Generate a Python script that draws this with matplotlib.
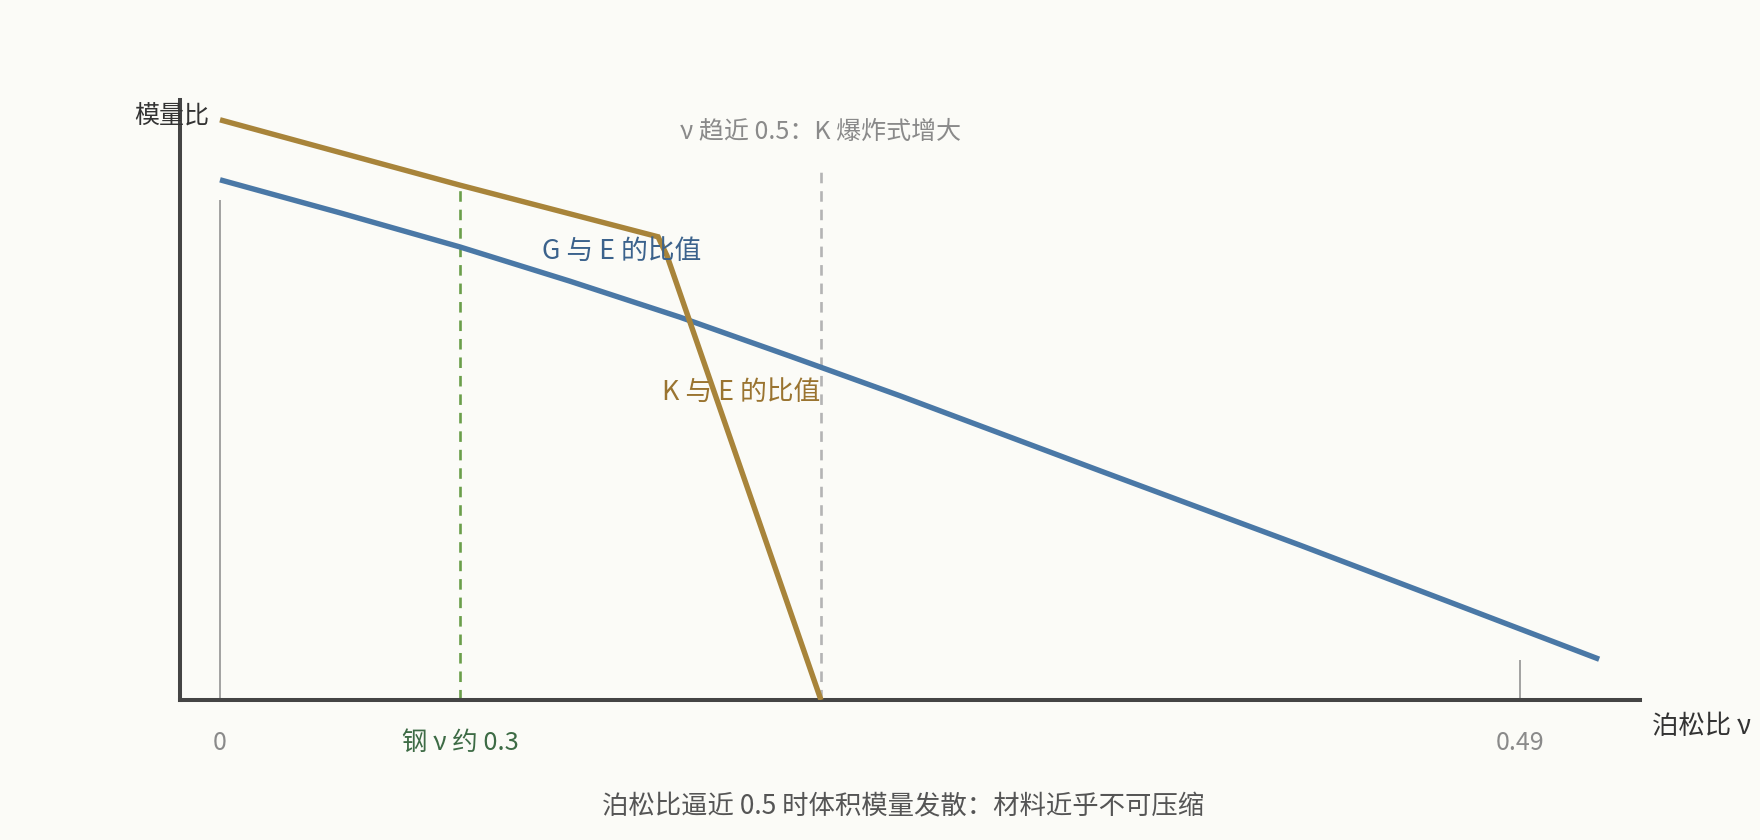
import matplotlib
matplotlib.use("Agg")
import matplotlib.pyplot as plt

plt.rcParams['font.family'] = ['Noto Sans CJK SC', 'DejaVu Sans']

# ---- data (schematic) ----
g_nu = [0.0, 0.0452, 0.0905, 0.1319, 0.1734, 0.2149, 0.2563, 0.3317, 0.4071, 0.4636, 0.5198]
g_ratio = [0.867, 0.812, 0.755, 0.698, 0.638, 0.573, 0.507, 0.382, 0.258, 0.163, 0.068]

k_nu = [0.0, 0.0905, 0.1651, 0.1685, 0.2265]
k_ratio = [0.967, 0.858, 0.772, 0.740, 0.0]

steel_nu = 0.0905
steel_top = 0.857
limit_nu = 0.2265
limit_top = 0.885

tick_nu = [0.0, 0.49]
tick_top = [0.833, 0.067]
tick_labels = ["0", "0.49"]

title_y = "模量比"
title_x = "泊松比 ν"
label_g = "G 与 E 的比值"
label_k = "K 与 E 的比值"
label_limit = "ν 趋近 0.5：K 爆炸式增大"
label_steel = "钢 ν 约 0.3"
caption = "泊松比逼近 0.5 时体积模量发散：材料近乎不可压缩"

# ---- colours ----
bg = "#fbfbf7"
c_gold = "#a8843a"
c_blue = "#4a78a6"
c_green = "#6a9e4a"
c_gray_dash = "#b4b4b4"
c_axis = "#444444"

fig = plt.figure(figsize=(17.6, 8.4), dpi=100, facecolor=bg)
ax = fig.add_axes([180 / 1760, 140 / 840, 1460 / 1760, 600 / 840])
ax.set_facecolor(bg)
ax.set_xlim(-0.01508, 0.5352)
ax.set_ylim(0, 1)
for s in ("top", "right"):
    ax.spines[s].set_visible(False)
for s in ("left", "bottom"):
    ax.spines[s].set_color(c_axis)
    ax.spines[s].set_linewidth(2.9)
ax.set_xticks([])
ax.set_yticks([])

# thin gray tick lines
for x, t in zip(tick_nu, tick_top):
    ax.plot([x, x], [0, t], color="#8a8a8a", lw=1.1, solid_capstyle="butt", zorder=1)

# dashed reference lines
ax.plot([steel_nu, steel_nu], [0, steel_top], color=c_green, lw=1.9,
        dashes=(4, 3), zorder=2)
ax.plot([limit_nu, limit_nu], [0, limit_top], color=c_gray_dash, lw=1.9,
        dashes=(4, 3), zorder=2)

# curves
ax.plot(g_nu, g_ratio, color=c_blue, lw=3.9, solid_capstyle="butt",
        solid_joinstyle="round", zorder=3)
ax.plot(k_nu, k_ratio, color=c_gold, lw=3.9, solid_capstyle="butt",
        solid_joinstyle="miter", zorder=4)

fs = 18
fl = 19.3
ax.text(-0.00415, 0.972, title_y, ha="right", va="center", fontsize=fs,
        color="#333333", clip_on=False, zorder=5)
ax.text(limit_nu, 0.947, label_limit, ha="center", va="center", fontsize=fs,
        color="#8a8a8a", clip_on=False)
ax.text(0.1214, 0.747, label_g, ha="left", va="center", fontsize=fl,
        color="#3b628c", zorder=6)
ax.text(0.1666, 0.513, label_k, ha="left", va="center", fontsize=fl,
        color="#9a7430", zorder=6)

for x, lab in zip(tick_nu, tick_labels):
    ax.text(x, -0.0717, lab, ha="center", va="center", fontsize=18,
            color="#8a8a8a", clip_on=False)
ax.text(steel_nu, -0.0717, label_steel, ha="center", va="center", fontsize=18.3,
        color="#3d6b45", clip_on=False)
ax.text(0.5398, -0.045, title_x, ha="left", va="center", fontsize=19,
        color="#333333", clip_on=False)

fig.text(903 / 1760, 1 - 807 / 840, caption, ha="center", va="center",
         fontsize=19, color="#555555")

fig.savefig("out.png", dpi=100, facecolor=bg)
